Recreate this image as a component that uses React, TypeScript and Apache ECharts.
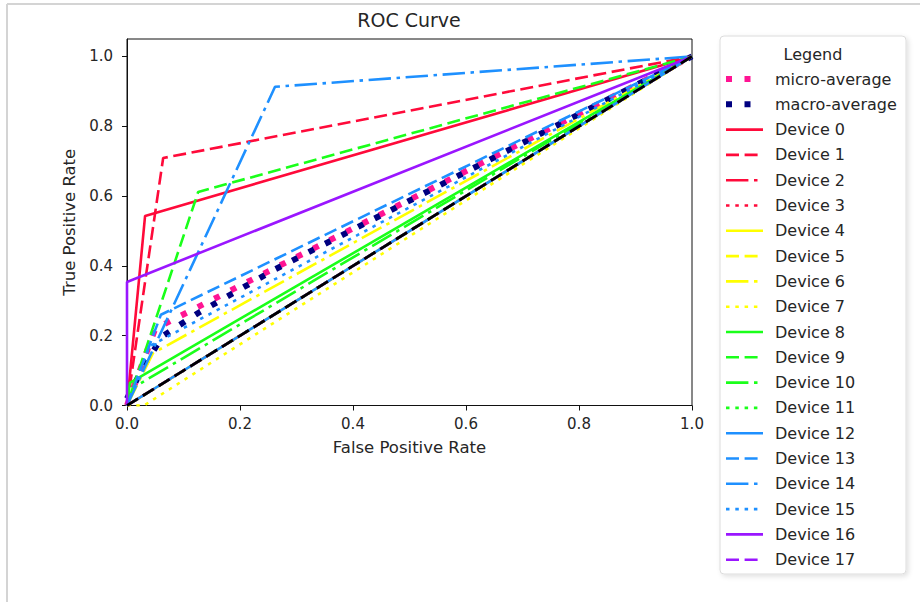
import React, { useEffect, useRef } from 'react';
import * as echarts from 'echarts';

// ---------- data ----------
const deviceNames = [
  'Device 0', 'Device 1', 'Device 2', 'Device 3', 'Device 4', 'Device 5',
  'Device 6', 'Device 7', 'Device 8', 'Device 9', 'Device 10', 'Device 11',
  'Device 12', 'Device 13', 'Device 14', 'Device 15', 'Device 16', 'Device 17',
];

const deviceFpr: number[][] = [
  [0, 0.032, 1], // 0
  [0, 0.064, 1], // 1
  [0, 1], // 2
  [0, 1], // 3
  [0, 1], // 4
  [0, 1], // 5
  [0, 0.046, 1], // 6
  [0, 0.03, 1], // 7
  [0, 0.005, 1], // 8
  [0, 0.126, 1], // 9
  [0, 0.01, 1], // 10
  [0, 1], // 11
  [0, 1], // 12
  [0, 0.06, 1], // 13
  [0, 0.262, 1], // 14
  [0, 0.04, 1], // 15
  [0, 0, 1], // 16
  [0, 1], // 17
];

const deviceTpr: number[][] = [
  [0, 0.543, 1],
  [0, 0.709, 1],
  [0, 1],
  [0, 1],
  [0, 1],
  [0, 1],
  [0, 0.15, 1],
  [0, 0, 1],
  [0, 0.065, 1],
  [0, 0.612, 1],
  [0, 0.05, 1],
  [0, 1],
  [0, 1],
  [0, 0.26, 1],
  [0, 0.913, 1],
  [0, 0.17, 1],
  [0, 0.354, 1],
  [0, 1],
];

const microFpr = [0, 0.05, 1];
const microTpr = [0, 0.22, 1];
const macroFpr = [0, 0.032, 0.064, 0.126, 0.262, 1];
const macroTpr = [0.02, 0.12, 0.2, 0.265, 0.39, 1];
const chanceFpr = [0, 1];
const chanceTpr = [0, 1];

const axisTicks = [0, 0.2, 0.4, 0.6, 0.8, 1.0];

// ---------- styles ----------
const RED = '#ff0a3a';
const YEL = '#ffff00';
const GRN = '#1aff1a';
const BLU = '#1e90ff';
const PUR = '#9a16ff';
const deviceColors = [
  RED, RED, RED, RED, YEL, YEL, YEL, YEL, GRN, GRN, GRN, GRN,
  BLU, BLU, BLU, BLU, PUR, PUR,
];
const DASHES: any[] = ['solid', [13, 5.6], [22.4, 5.6, 3.5, 5.6], [3.5, 5.8]];
const FONT = 'DejaVu Sans';
const TXT = '#262626';

const zip = (xs: number[], ys: number[]) => xs.map((x, i) => [x, ys[i]]);

export default function App() {
  const ref = useRef<HTMLDivElement>(null);

  useEffect(() => {
    if (!ref.current) return;
    const chart = echarts.init(ref.current, undefined, { renderer: 'svg' });

    const series: any[] = [
      {
        type: 'line',
        name: 'micro-average',
        data: zip(microFpr, microTpr),
        symbol: 'none',
        lineStyle: { color: '#ff1493', width: 6, type: [6, 12.5], cap: 'butt' },
        itemStyle: { color: '#ff1493' },
      },
      {
        type: 'line',
        name: 'macro-average',
        data: zip(macroFpr, macroTpr),
        symbol: 'none',
        lineStyle: { color: '#000080', width: 6, type: [6, 12.5], cap: 'butt' },
        itemStyle: { color: '#000080' },
      },
      ...deviceNames.map((name, i) => ({
        type: 'line',
        name,
        data: zip(deviceFpr[i], deviceTpr[i]),
        symbol: 'none',
        lineStyle: { color: deviceColors[i], width: 2.6, type: DASHES[i % 4], cap: 'butt' },
        itemStyle: { color: deviceColors[i] },
      })),
      {
        type: 'line',
        name: 'chance',
        data: zip(chanceFpr, chanceTpr),
        symbol: 'none',
        lineStyle: { color: '#000', width: 2.8, type: [13, 5.6], cap: 'butt' },
        itemStyle: { color: '#000' },
      },
    ];

    chart.setOption({
      animation: false,
      backgroundColor: '#fff',
      grid: {
        left: 127,
        right: 228,
        top: 39,
        bottom: 196.5,
        show: true,
        borderColor: '#111',
        borderWidth: 1,
        backgroundColor: 'transparent',
      },
      xAxis: {
        type: 'value',
        min: 0,
        max: 1,
        interval: 0.2,
        name: 'False Positive Rate',
        nameLocation: 'middle',
        nameGap: 33,
        nameTextStyle: { color: TXT, fontSize: 16.5, fontFamily: FONT },
        axisLine: { show: true, onZero: false, lineStyle: { color: '#111', width: 1 } },
        axisTick: { show: true, length: 5, lineStyle: { color: '#111' } },
        axisLabel: {
          formatter: (v: number) => v.toFixed(1),
          color: TXT,
          fontSize: 15,
          fontFamily: FONT,
          margin: 11,
        },
        splitLine: { show: false },
      },
      yAxis: {
        type: 'value',
        min: 0,
        max: 1.05,
        interval: 0.2,
        name: 'True Positive Rate',
        nameLocation: 'middle',
        nameGap: 49,
        nameTextStyle: { color: TXT, fontSize: 16.5, fontFamily: FONT },
        axisLine: { show: true, onZero: false, lineStyle: { color: '#111', width: 1 } },
        axisTick: { show: true, length: 5, lineStyle: { color: '#111' }, customValues: axisTicks },
        axisLabel: {
          customValues: axisTicks,
          formatter: (v: number) => v.toFixed(1),
          color: TXT,
          fontSize: 15,
          fontFamily: FONT,
          margin: 14,
        },
        splitLine: { show: false },
      },
      legend: {
        orient: 'vertical',
        left: 723,
        top: 71,
        itemWidth: 37,
        itemHeight: 14,
        itemGap: 9.3,
        padding: 0,
        selectedMode: false,
        data: ['micro-average', 'macro-average', ...deviceNames],
        itemStyle: { opacity: 0 },
        lineStyle: { width: 'inherit' },
        textStyle: { color: TXT, fontSize: 16, fontFamily: FONT, padding: [0, 0, 0, 7] },
      },
      graphic: [
        {
          type: 'line',
          shape: { x1: 7, y1: 4, x2: 920, y2: 4 },
          style: { stroke: '#d4d4d4', lineWidth: 2 },
          silent: true,
        },
        {
          type: 'line',
          shape: { x1: 7, y1: 4, x2: 7, y2: 602 },
          style: { stroke: '#d4d4d4', lineWidth: 2 },
          silent: true,
        },
        {
          type: 'rect',
          shape: { x: 720, y: 36, width: 186, height: 538, r: 4 },
          style: {
            fill: '#fff',
            stroke: '#dcdcdc',
            lineWidth: 1,
            shadowBlur: 5,
            shadowColor: 'rgba(0,0,0,0.12)',
            shadowOffsetX: 2,
            shadowOffsetY: 2,
          },
          silent: true,
        },
        {
          type: 'text',
          x: 813,
          y: 54,
          style: {
            text: 'Legend',
            textAlign: 'center',
            textVerticalAlign: 'middle',
            fontSize: 16,
            fontFamily: FONT,
            fill: TXT,
          },
          silent: true,
        },
        {
          type: 'text',
          x: 409,
          y: 20,
          style: {
            text: 'ROC Curve',
            textAlign: 'center',
            textVerticalAlign: 'middle',
            fontSize: 19,
            fontFamily: FONT,
            fill: TXT,
          },
          silent: true,
        },
      ],
      series,
    });

    return () => {
      chart.dispose();
    };
  }, []);

  return <div ref={ref} style={{ width: 920, height: 602, position: 'absolute', left: 0, top: 0 }} />;
}
